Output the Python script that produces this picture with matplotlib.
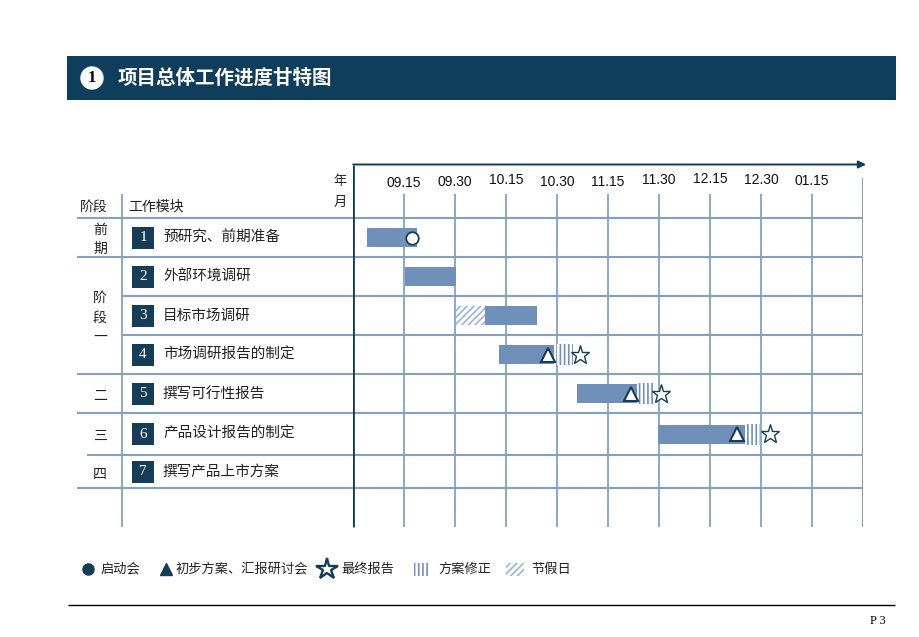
import matplotlib.pyplot as plt
from matplotlib.patches import Rectangle, Circle

plt.rcParams['font.family'] = ['Noto Sans CJK SC', 'DejaVu Sans']
plt.rcParams['hatch.linewidth'] = 1.2

# time axis in half-month steps: 0 = start of axis, 1 = 09.15, 2 = 09.30 ...
date_labels = ['09.15', '09.30', '10.15', '10.30', '11.15', '11.30', '12.15', '12.30', '01.15']

tasks = ['预研究、前期准备', '外部环境调研', '目标市场调研', '市场调研报告的制定',
         '撰写可行性报告', '产品设计报告的制定', '撰写产品上市方案']
phases = ['前\n期', '阶\n段\n一', '二', '三', '四']
phase_rows = [(0, 1), (1, 4), (4, 5), (5, 6), (6, 7)]

# work bars (task row, start, end)
bar_rows = [0, 1, 2, 3, 4, 5]
bar_start = [0.27, 1.02, 2.58, 2.86, 4.39, 5.98]
bar_end = [1.25, 2.02, 3.60, 3.94, 5.56, 7.68]

holiday_rows = [2]
holiday_start = [2.02]
holiday_end = [2.58]

kickoff_rows = [0]
kickoff_at = [1.15]

draft_rows = [3, 4, 5]
draft_at = [3.82, 5.45, 7.53]

revise_rows = [3, 4, 5]
revise_start = [4.00, 5.56, 7.68]
revise_end = [4.31, 5.88, 7.97]

final_rows = [3, 4, 5]
final_at = [4.45, 6.04, 8.17]

legend_labels = ['启动会', '初步方案、汇报研讨会', '最终报告', '方案修正', '节假日']

# colours / layout
NAVY = '#163d57'
HEAD = '#0f3d5c'
BAR = '#7090b9'
GRID = '#86a1c0'
HATCH = '#98b6d6'
ROW_EDGES = [218, 257, 296, 335, 374, 413, 455, 488]
ROW_LINE_START = [77, 77, 122, 122, 77, 77, 87, 77]
LABEL_Y = [183, 182, 180, 182, 182, 180, 179, 180, 181]
BOTTOM = 527
W, H = 920, 637

fig = plt.figure(figsize=(W / 100, H / 100), dpi=100)
base = fig.add_axes([0, 0, 1, 1])
base.set_xlim(0, W)
base.set_ylim(H, 0)
base.axis('off')

# gantt axes: x in half-month units, y in pixels from the top
gx0, gx1 = 353.2, 863
gx = fig.add_axes([gx0 / W, 0, (gx1 - gx0) / W, 1])
gx.set_xlim(0, 10)
gx.set_ylim(H, 0)
gx.axis('off')
gx.patch.set_alpha(0)

# header band
base.add_patch(Rectangle((67, 56), 829, 44, color=HEAD, lw=0))
base.add_patch(Circle((92, 78), 11, color='white'))
base.text(92, 78.5, '1', color='black', fontsize=12, fontweight='bold',
          family='Liberation Serif', ha='center', va='center')
base.text(118, 78, '项目总体工作进度甘特图', color='white', fontsize=14,
          fontweight='bold', ha='left', va='center')

# table header
base.text(80, 207, '阶段', fontsize=10, ha='left', va='center', color='#222222')
base.text(128, 207, '工作模块', fontsize=10, ha='left', va='center', color='#222222')
base.text(340, 181, '年', fontsize=9.5, ha='center', va='center', color='#222222')
base.text(340, 202, '月', fontsize=9.5, ha='center', va='center', color='#222222')

# table lines
base.vlines(122, 194, BOTTOM, color=GRID, lw=1.3)
for y, x0 in zip(ROW_EDGES, ROW_LINE_START):
    base.hlines(y, x0, gx1, color=GRID, lw=1.5)

row_center = [(a + b) / 2 for a, b in zip(ROW_EDGES[:-1], ROW_EDGES[1:])]

# phases
for name, (r0, r1) in zip(phases, phase_rows):
    yc = (ROW_EDGES[r0] + ROW_EDGES[r1]) / 2 + 2
    base.text(100, yc, name, fontsize=10, ha='center', va='center',
              linespacing=1.5, color='#222222')

# task rows
for i, name in enumerate(tasks):
    yc = row_center[i]
    base.add_patch(Rectangle((132, yc - 11), 22, 22, color=NAVY, lw=0))
    base.text(143, yc, str(i + 1), color='white', fontsize=11,
              family='Liberation Serif', ha='center', va='center')
    base.text(163, yc, name, fontsize=10.5, ha='left', va='center', color='#222222')

# time axis
gx.vlines(range(1, 10), 194, BOTTOM, color=GRID, lw=1.3)
gx.vlines(10, 178, BOTTOM, color=GRID, lw=1.5)
gx.vlines(0, 164.5, BOTTOM, color=NAVY, lw=2)
gx.annotate('', xy=(10.06, 164.5), xytext=(0, 164.5), annotation_clip=False,
            arrowprops=dict(arrowstyle='-|>', color=NAVY, lw=1.4, mutation_scale=11,
                            shrinkA=0, shrinkB=0))
for i, (lab, ly_) in enumerate(zip(date_labels, LABEL_Y)):
    gx.text(i + 1, ly_, lab, fontsize=10, family='Liberation Sans',
            ha='center', va='center', color='#111111')

# bars
bh = 19
gx.barh([row_center[r] for r in bar_rows], [e - s for s, e in zip(bar_start, bar_end)],
        left=bar_start, height=bh, color=BAR, lw=0, zorder=3)
gx.barh([row_center[r] for r in holiday_rows],
        [e - s for s, e in zip(holiday_start, holiday_end)], left=holiday_start,
        height=bh, facecolor='white', edgecolor=HATCH, hatch='/////', lw=0, zorder=3)
gx.barh([row_center[r] for r in revise_rows],
        [e - s for s, e in zip(revise_start, revise_end)], left=revise_start,
        height=bh + 2, facecolor='white', edgecolor=BAR, hatch='||||', lw=0, zorder=3)

gx.plot(kickoff_at, [row_center[r] for r in kickoff_rows], 'o', ms=9,
        mfc='white', mec=NAVY, mew=1.3, zorder=5)
gx.plot(draft_at, [row_center[r] for r in draft_rows], '^', ms=10,
        mfc='white', mec=NAVY, mew=1.5, zorder=5)
gx.plot(final_at, [row_center[r] for r in final_rows], '*', ms=14,
        mfc='white', mec=NAVY, mew=1.0, zorder=5, clip_on=False)

# legend
ly = 569
base.plot(88, ly, 'o', ms=8, color=NAVY)
base.text(101, ly, legend_labels[0], fontsize=9.5, ha='left', va='center', color='#222222')
base.plot(166, ly, '^', ms=8.5, color=NAVY)
base.text(176, ly, legend_labels[1], fontsize=9.5, ha='left', va='center', color='#222222')
base.plot(327, ly, '*', ms=16, mfc='white', mec=NAVY, mew=1.7)
base.text(341, ly, legend_labels[2], fontsize=9.5, ha='left', va='center', color='#222222')
base.add_patch(Rectangle((414, ly - 6.5), 16, 13, facecolor='white', edgecolor=BAR,
                         hatch='||||', lw=0))
base.text(438, ly, legend_labels[3], fontsize=9.5, ha='left', va='center', color='#222222')
base.add_patch(Rectangle((506, ly - 6.5), 18, 13, facecolor='white', edgecolor=HATCH,
                         hatch='/////', lw=0))
base.text(531, ly, legend_labels[4], fontsize=9.5, ha='left', va='center', color='#222222')

# footer
base.hlines(605, 68, 895, color='black', lw=1)
base.text(878, 621, 'P 3', fontsize=9, family='Liberation Serif', ha='center',
          va='center', color='black')

fig.savefig('out.png', dpi=100)
